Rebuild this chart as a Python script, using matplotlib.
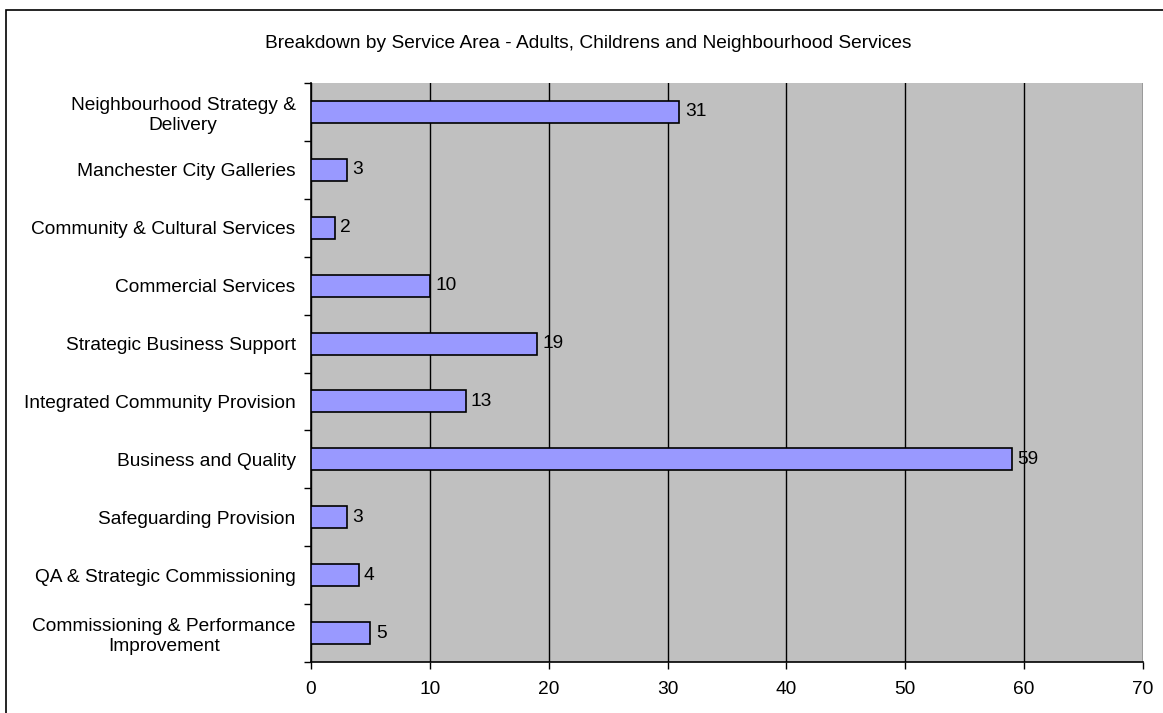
import matplotlib.pyplot as plt
from matplotlib.patches import Rectangle

plt.rcParams['font.family'] = ['Liberation Sans', 'DejaVu Sans']

""" data """
categories = ["Neighbourhood Strategy &\nDelivery", "Manchester City Galleries",
              "Community & Cultural Services", "Commercial Services",
              "Strategic Business Support", "Integrated Community Provision",
              "Business and Quality", "Safeguarding Provision",
              "QA & Strategic Commissioning", "Commissioning & Performance\nImprovement"]
values = [31, 3, 2, 10, 19, 13, 59, 3, 4, 5]
title = "Breakdown by Service Area - Adults, Childrens and Neighbourhood Services"

fs = 13.8

""" figure """
fig = plt.figure(figsize=(11.63, 7.13), dpi=100)
ax = fig.add_axes([311/1163, 51/713, 832/1163, 579/713])

# outer chart frame (cut at right and bottom)
fig.patches.append(Rectangle((6/1163, -0.1), 1.2, (713-10)/713 + 0.1, transform=fig.transFigure,
                             fill=False, edgecolor="black", linewidth=1.2, zorder=0))

n = len(categories)
ypos = [n - 1 - i for i in range(n)]
ax.set_facecolor("#C0C0C0")
ax.barh(ypos, values, height=0.38, color="#9999FF", edgecolor="black", linewidth=1.2, zorder=3)
for y, v in zip(ypos, values):
    ax.text(v + 0.45, y, str(v), va="center", ha="left", fontsize=fs, zorder=4)

ax.set_xlim(0, 70)
ax.set_ylim(-0.5, n - 0.5)
ax.set_xticks(range(0, 71, 10))
ax.set_yticks([y - 0.5 for y in range(n + 1)], minor=False)
ax.set_yticklabels([])
ax.set_yticks(ypos, minor=True)
ax.set_yticklabels(categories, minor=True, multialignment="center")
ax.tick_params(axis="y", which="minor", length=0, pad=11, labelsize=fs)
ax.tick_params(axis="y", which="major", length=5, width=1, direction="out")
ax.tick_params(axis="x", length=5, width=1, direction="out", labelsize=fs, pad=9)
ax.xaxis.grid(True, color="black", linewidth=1, zorder=1)
ax.set_axisbelow(True)

for side in ["top", "right"]:
    ax.spines[side].set_visible(False)
ax.spines["left"].set_linewidth(1.2)
ax.spines["bottom"].set_linewidth(1.2)

fig.text(588/1163, (713-43)/713, title, ha="center", va="center", fontsize=fs)

fig.savefig("out.png", dpi=100)
